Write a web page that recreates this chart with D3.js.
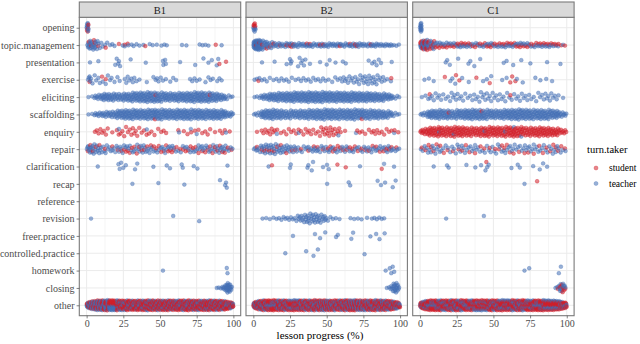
<!DOCTYPE html>
<html>
<head>
<meta charset="utf-8">
<script src="https://cdn.jsdelivr.net/npm/d3@7"></script>
<style>
  body { margin: 0; background: #fff; }
  svg { display: block; font-family: "Liberation Serif", "Times New Roman", serif; }
</style>
</head>
<body>
<svg id="chart" width="640" height="344"></svg>
<script>
// facets and rows of the plot
const facets = ["B1", "B2", "C1"];
const categories = ["opening", "topic.management", "presentation", "exercise", "eliciting",
  "scaffolding", "enquiry", "repair", "clarification", "recap", "reference", "revision",
  "freer.practice", "controlled.practice", "homework", "closing", "other"];
const takers = ["student", "teacher"];
const xTicks = [0, 25, 50, 75, 100];

// single turns (lesson progress, %)
const b1Teacher = {
  "opening": [0, 0.2, 0.4, 0.5, 0.6, 0.8, 1, 1.1, 1.3],
  "topic.management": [0.5, 1, 1, 1.5, 2, 2, 2.5, 3, 3, 3.5, 4, 4, 4.5, 5, 5.5, 6, 6, 6.5, 7, 7.5, 8, 9, 10,
    11, 12.5, 14, 16, 17.5, 19, 24.6, 26, 28.5, 30.7, 32, 34, 36, 38.7, 43, 45, 47.8, 51, 53, 54.6, 65, 68, 77, 79, 81, 83, 92],
  "presentation": [2.3, 8, 19.5, 20.5, 21.6, 22, 22.8, 30, 40.3, 52, 52.3, 53.5, 54, 63.7, 74, 79.6, 83, 85.3, 88.7, 89.7],
  "exercise": [1, 1.5, 2, 2.5, 3, 4, 5.5, 6.5, 8, 9, 11, 13, 14.5, 16, 17, 19, 21, 22.5, 26, 27, 28, 29, 30.5, 31.5,
    32.5, 34, 36, 41, 45.5, 47, 48, 49, 50.5, 52, 54, 57, 59, 61, 70.5, 72, 73.5, 75, 77, 81, 83, 84.5, 86, 89, 90.5, 92],
  "enquiry": [22, 41, 63, 71, 75, 95],
  "clarification": [7.6, 21.7, 22.5, 23.5, 25, 26.7, 33, 34.5, 45.5, 54.6, 56.8, 64.8, 65.5, 73, 75.5, 96],
  "recap": [31.2, 48.9, 66.6, 90.9, 94.4, 95, 95.5],
  "revision": [3, 59, 76.7],
  "homework": [52, 95.5, 96],
  "closing": [88.7, 90, 91.5, 92.5, 93, 93.5, 94, 94.5, 94.8, 95, 95.2, 95.5, 95.7, 95.8, 96, 96.2, 96.3, 96.5,
    96.8, 97, 97.2, 97.4, 97.5, 97.8, 98, 98.3, 98.6, 99]
};
const b1Student = {
  "opening": [0.3, 0.7, 0.9, 1.2],
  "topic.management": [1.5, 3, 5, 5.5, 8, 13, 22, 26, 28, 40, 88],
  "presentation": [90.5, 95],
  "exercise": [2, 10.5, 13],
  "eliciting": [47, 84],
  "scaffolding": [46.6]
};
const b2Teacher = {
  "opening": [0, 0.3, 0.6, 0.9, 1.2, 1.5],
  "presentation": [5.9, 14.5, 22.7, 25, 25.5, 26, 30.5, 31.5, 32.5, 33.5, 34.5, 35.5, 38.6, 45.5, 50, 52, 56, 61, 63,
    78.6, 81, 82.5, 84, 85.5, 87, 94.3],
  "enquiry": [16, 31, 58, 70, 96],
  "clarification": [10.4, 25, 25.5, 36.9, 37.5, 39.8, 40.7, 47.5, 50.2, 51.4, 72.7, 89.1, 95.9],
  "recap": [50.3, 65, 66, 84.7, 87, 89.8, 95, 97],
  "freer.practice": [27, 42, 45.5, 49, 56.4, 57.6, 66.8, 68, 79.8, 83.7, 86, 89.5],
  "controlled.practice": [21.8, 36, 41, 44, 75.8],
  "homework": [90.2, 93, 94, 95, 96],
  "closing": [91, 92.5, 93.5, 94, 94.5, 95, 95.3, 95.6, 95.8, 96, 96.3, 96.6, 96.8, 97, 97.3, 97.6, 97.8, 98,
    98.3, 98.6, 99, 99.3]
};
const b2Student = {
  "opening": [0.2, 0.5, 0.8, 1, 1.3],
  "topic.management": [2, 4, 6, 9, 11.4, 13.7, 18.2, 22.7, 25, 26, 27.3, 36.4, 38.6, 45.5, 47.7, 59, 65.9, 69.3, 70.5, 80],
  "exercise": [3.5, 94],
  "scaffolding": [74],
  "clarification": [12.7, 57.3, 63, 87.5]
};
const c1Teacher = {
  "opening": [0, 0.2, 0.3, 0.4, 0.5, 0.6, 0.7, 0.8, 0.9, 1, 1.1],
  "presentation": [17.5, 18.5, 20.3, 26, 33, 34.3, 37, 41, 57, 59, 63.5, 69, 75.2, 86.6, 95.7],
  "exercise": [3, 6, 9.3, 20.7, 22, 24, 28.7, 33.2, 43, 45.5, 48.5, 56, 59, 66, 70, 78.6, 82, 86, 90],
  "enquiry": [13, 23, 44, 58, 64, 69],
  "clarification": [9.3, 18.4, 19.5, 31.6, 37.7, 41.6, 44.6, 45.8, 46.8, 62.3, 66.6, 68, 77.1, 81.6, 83.9, 86.6],
  "recap": [71.2],
  "revision": [17.8, 43.5],
  "homework": [71.2, 74.4, 94.6, 96],
  "closing": [92.3, 93.5, 94.5, 95, 95.5, 95.8, 96, 96.5, 96.8, 97, 97.5, 98, 98.5, 99]
};
const c1Student = {
  "exercise": [16.9, 24.5, 26.8, 38.4, 47.5, 61.5, 62.8, 65],
  "eliciting": [6.6, 61.6],
  "scaffolding": [19.6, 42],
  "clarification": [45.2],
  "recap": [79.8],
  "closing": [94, 95.2, 96.2, 96.7, 97.2, 97.7, 98.2, 99]
};

// dense rows: number of turns per 5% bin of lesson progress (0-5, 5-10, ... 95-100)
const b1TeacherBins = {
  "eliciting": [2, 8, 13, 12, 11, 13, 15, 16, 17, 16, 14, 13, 14, 15, 16, 17, 15, 14, 11, 4],
  "scaffolding": [2, 7, 9, 10, 14, 16, 16, 15, 16, 17, 16, 15, 16, 17, 16, 16, 15, 16, 15, 9],
  "repair": [12, 9, 6, 5, 6, 5, 5, 7, 6, 4, 5, 5, 3, 4, 4, 6, 5, 6, 7, 4],
  "other": [24, 26, 26, 25, 18, 16, 15, 16, 17, 15, 16, 15, 16, 17, 15, 16, 15, 16, 15, 14]
};
const b1StudentBins = {
  "enquiry": [0, 4, 4, 1, 4, 4, 5, 3, 3, 2, 3, 0, 1, 2, 2, 2, 3, 1, 3, 1],
  "repair": [3, 2, 1, 1, 2, 4, 3, 3, 2, 3, 3, 4, 2, 3, 3, 2, 3, 3, 3, 2],
  "other": [18, 20, 22, 24, 28, 30, 29, 30, 31, 30, 31, 30, 29, 31, 30, 29, 31, 30, 29, 24]
};
const b2TeacherBins = {
  "topic.management": [40, 14, 8, 7, 7, 7, 7, 7, 6, 7, 7, 7, 6, 7, 7, 6, 7, 6, 6, 3],
  "exercise": [3, 3, 2, 3, 3, 2, 3, 3, 3, 3, 2, 3, 5, 5, 6, 7, 7, 5, 2, 0],
  "eliciting": [3, 9, 13, 14, 15, 16, 16, 17, 17, 17, 16, 16, 16, 16, 15, 15, 14, 13, 11, 4],
  "scaffolding": [5, 15, 16, 14, 12, 12, 13, 14, 15, 16, 16, 15, 15, 16, 15, 14, 14, 13, 11, 4],
  "repair": [6, 9, 9, 9, 8, 6, 4, 5, 6, 5, 5, 4, 5, 4, 4, 5, 5, 5, 6, 4],
  "revision": [0, 2, 2, 3, 4, 4, 8, 11, 11, 9, 3, 2, 0, 2, 2, 1, 3, 3, 0, 0],
  "other": [18, 19, 17, 19, 18, 17, 19, 18, 19, 20, 19, 18, 19, 21, 20, 19, 18, 19, 17, 15]
};
const b2StudentBins = {
  "enquiry": [1, 4, 5, 2, 3, 3, 3, 4, 3, 6, 7, 5, 1, 0, 3, 2, 4, 3, 3, 2],
  "repair": [1, 3, 3, 2, 1, 2, 1, 1, 2, 1, 3, 3, 2, 3, 2, 2, 2, 2, 3, 1],
  "other": [27, 28, 29, 28, 27, 29, 28, 27, 28, 27, 26, 27, 28, 27, 25, 27, 28, 27, 26, 23]
};
const c1TeacherBins = {
  "topic.management": [18, 10, 5, 4, 4, 5, 4, 4, 4, 5, 4, 4, 4, 5, 4, 4, 4, 4, 3, 1],
  "eliciting": [2, 4, 4, 3, 5, 4, 3, 4, 5, 5, 4, 4, 3, 4, 4, 3, 4, 5, 4, 1],
  "scaffolding": [6, 15, 15, 14, 12, 14, 16, 16, 15, 14, 13, 15, 16, 17, 16, 15, 16, 15, 14, 8],
  "repair": [4, 5, 5, 3, 4, 5, 4, 5, 3, 4, 4, 4, 5, 4, 5, 5, 4, 4, 5, 3],
  "other": [16, 17, 18, 17, 19, 18, 17, 18, 17, 16, 18, 17, 18, 19, 17, 16, 18, 17, 16, 14]
};
const c1StudentBins = {
  "topic.management": [14, 7, 4, 4, 4, 4, 4, 3, 3, 4, 3, 4, 4, 4, 4, 3, 4, 4, 4, 2],
  "enquiry": [10, 14, 14, 13, 14, 15, 13, 12, 13, 14, 14, 13, 15, 14, 12, 13, 14, 13, 12, 7],
  "repair": [2, 3, 2, 2, 1, 2, 2, 1, 2, 1, 2, 3, 2, 1, 2, 1, 2, 2, 3, 2],
  "other": [28, 29, 28, 27, 29, 28, 27, 29, 28, 30, 28, 29, 28, 27, 29, 28, 29, 28, 27, 24]
};

const facetData = {
  B1: { teacher: [b1Teacher, b1TeacherBins], student: [b1Student, b1StudentBins] },
  B2: { teacher: [b2Teacher, b2TeacherBins], student: [b2Student, b2StudentBins] },
  C1: { teacher: [c1Teacher, c1TeacherBins], student: [c1Student, c1StudentBins] }
};

// ---- layout ----
const svg = d3.select("#chart");
const stripTop = 2, panelTop = 17.3, panelBottom = 315.7;
const left0 = 79.3, panelW = 161.4, gap = 5.3;
const textCol = "#4d4d4d", borderCol = "#7a7a7a", gridCol = "#ebebeb";

const x = d3.scaleLinear().domain([-5, 105]).range([0, panelW]);
const y = d3.scalePoint().domain(categories).range([panelTop, panelBottom]).padding(0.6);
const colour = d3.scaleOrdinal().domain(takers).range(["#d2202a", "#4470b4"]);
const halfWidth = 0.3 * y.step();

function fromBins(counts) {
  const out = [];
  counts.forEach((n, b) => {
    for (let i = 0; i < n; i++) out.push(b * 5 + 5 * (i + 0.5) / n);
  });
  return out;
}

// van der Corput sequence, base 2
function vdc(i) {
  let v = 0, denom = 1;
  while (i > 0) { denom *= 2; v += (i % 2) / denom; i = Math.floor(i / 2); }
  return v;
}

// quasirandom offsets like ggbeeswarm (density scaled, max = 1)
function quasiOffsets(xs) {
  const n = xs.length;
  if (n < 2) return xs.map(() => 0);
  const sorted = xs.slice().sort(d3.ascending);
  const sd = d3.deviation(xs);
  const iqr = d3.quantileSorted(sorted, 0.75) - d3.quantileSorted(sorted, 0.25);
  let lo = Math.min(sd, iqr / 1.34);
  if (!(lo > 0)) lo = sd || 1;
  const bw = 0.5 * 0.9 * lo * Math.pow(n, -0.2);
  const dens = xs.map(a => d3.sum(xs, b => Math.exp(-0.5 * ((a - b) / bw) * ((a - b) / bw))));
  const maxD = d3.max(dens);
  const order = d3.range(n).sort((i, j) => xs[i] - xs[j] || i - j);
  const off = new Array(n);
  order.forEach((idx, r) => { off[idx] = (vdc(r + 1) - 0.5) * 2 * halfWidth * dens[idx] / maxD; });
  return off;
}

facets.forEach((facet, fi) => {
  const px = left0 + fi * (panelW + gap);
  const g = svg.append("g").attr("transform", `translate(${px},0)`);

  // panel background and grid
  g.append("rect").attr("x", 0).attr("y", panelTop).attr("width", panelW)
    .attr("height", panelBottom - panelTop).attr("fill", "#fff");
  [12.5, 37.5, 62.5, 87.5].forEach(v => {
    g.append("line").attr("x1", x(v)).attr("x2", x(v)).attr("y1", panelTop).attr("y2", panelBottom)
      .attr("stroke", gridCol).attr("stroke-width", 0.5);
  });
  xTicks.forEach(v => {
    g.append("line").attr("x1", x(v)).attr("x2", x(v)).attr("y1", panelTop).attr("y2", panelBottom)
      .attr("stroke", gridCol).attr("stroke-width", 1);
  });
  categories.forEach(c => {
    g.append("line").attr("x1", 0).attr("x2", panelW).attr("y1", y(c)).attr("y2", y(c))
      .attr("stroke", gridCol).attr("stroke-width", 1);
  });

  // points, one quasirandom group per row
  const fd = facetData[facet];
  categories.forEach(cat => {
    const pts = [];
    takers.forEach(t => {
      const [single, bins] = fd[t];
      (single[cat] || []).forEach(v => pts.push({ x: v, taker: t }));
      if (bins[cat]) fromBins(bins[cat]).forEach(v => pts.push({ x: v, taker: t }));
    });
    if (!pts.length) return;
    const offs = quasiOffsets(pts.map(d => d.x));
    pts.forEach((d, i) => { d.dy = offs[i]; });
    pts.sort((a, b) => a.x - b.x);
    g.append("g").selectAll("circle").data(pts).join("circle")
      .attr("cx", d => x(d.x))
      .attr("cy", d => y(cat) + d.dy)
      .attr("r", 1.9)
      .attr("fill", d => colour(d.taker))
      .attr("fill-opacity", 0.55)
      .attr("stroke", d => colour(d.taker))
      .attr("stroke-opacity", 0.55)
      .attr("stroke-width", 0.6);
  });

  // panel border
  g.append("rect").attr("x", 0).attr("y", panelTop).attr("width", panelW)
    .attr("height", panelBottom - panelTop).attr("fill", "none")
    .attr("stroke", borderCol).attr("stroke-width", 1.1);

  // strip
  g.append("rect").attr("x", 0).attr("y", stripTop).attr("width", panelW)
    .attr("height", panelTop - stripTop).attr("fill", "#d9d9d9")
    .attr("stroke", borderCol).attr("stroke-width", 1.1);
  g.append("text").attr("x", panelW / 2).attr("y", 13.6).attr("text-anchor", "middle")
    .attr("font-size", 10.5).attr("fill", "#1a1a1a").text(facet);

  // x axis
  const xAxis = g.append("g").attr("transform", `translate(0,${panelBottom})`)
    .call(d3.axisBottom(x).tickValues(xTicks).tickSize(2.7).tickPadding(2));
  xAxis.select(".domain").remove();
  xAxis.selectAll(".tick line").attr("stroke", "#333").attr("stroke-width", 0.6);
  xAxis.selectAll(".tick text").attr("font-family", "Liberation Serif, serif")
    .attr("font-size", 10).attr("fill", textCol);

  // y axis on first panel only
  if (fi === 0) {
    const yAxis = g.append("g").call(d3.axisLeft(y).tickSize(2.7).tickPadding(2));
    yAxis.select(".domain").remove();
    yAxis.selectAll(".tick line").attr("stroke", "#333").attr("stroke-width", 0.6);
    yAxis.selectAll(".tick text").attr("font-family", "Liberation Serif, serif")
      .attr("font-size", 10).attr("fill", textCol);
  }
});

// axis title
svg.append("text").attr("x", 320).attr("y", 338.5)
  .attr("text-anchor", "middle").attr("font-size", 11).attr("fill", "#000")
  .text("lesson progress (%)");

// legend
const legend = svg.append("g");
legend.append("text").attr("x", 587).attr("y", 152.5).attr("font-size", 10.5).attr("fill", "#000")
  .text("turn.taker");
takers.forEach((t, i) => {
  const ly = 168 + i * 15.5;
  legend.append("circle").attr("cx", 596).attr("cy", ly).attr("r", 2)
    .attr("fill", colour(t)).attr("fill-opacity", 0.55)
    .attr("stroke", colour(t)).attr("stroke-opacity", 0.55).attr("stroke-width", 0.6);
  legend.append("text").attr("x", 609).attr("y", ly + 3.3).attr("font-size", 9.5).attr("fill", "#000").text(t);
});
</script>
</body>
</html>
